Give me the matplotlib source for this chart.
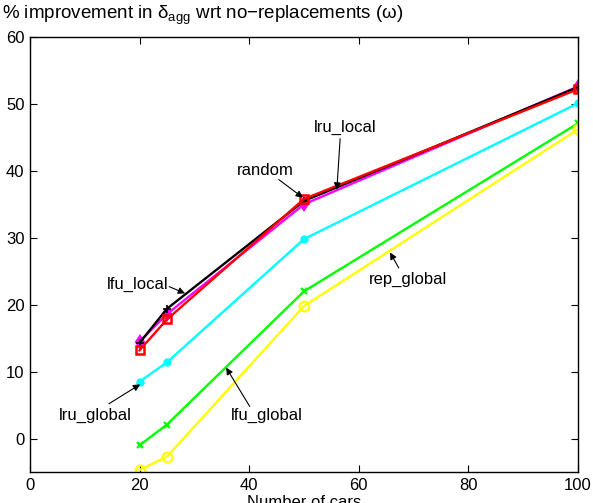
import matplotlib
matplotlib.use('Agg')
import matplotlib.pyplot as plt

plt.rcParams['font.family'] = ['Liberation Sans', 'DejaVu Sans']
plt.rcParams['mathtext.fontset'] = 'custom'
plt.rcParams['mathtext.rm'] = 'Liberation Sans'
plt.rcParams['mathtext.it'] = 'Liberation Sans:italic'

cars = [20, 25, 50, 100]
lfu_local = [14.3, 19.4, 35.5, 52.5]
random_rep = [13.2, 17.8, 35.8, 52.2]
lru_local = [14.5, 18.6, 35.0, 52.6]
lru_global = [8.5, 11.4, 29.8, 50.1]
lfu_global = [-1.0, 2.1, 22.0, 47.1]
rep_global = [-4.7, -2.7, 19.8, 46.2]

# (label, text pos, arrow tail, arrow tip) in data units
labels = [
    ('lru_local', (57.5, 46.5), (56.6, 44.8), (56.0, 37.2)),
    ('random', (42.9, 40.1), (45.4, 38.7), (49.8, 36.0)),
    ('lfu_local', (19.6, 23.0), (25.4, 22.7), (28.3, 21.7)),
    ('lru_global', (11.9, 3.4), (14.4, 5.2), (20.1, 8.1)),
    ('lfu_global', (43.2, 3.5), (40.1, 4.8), (35.8, 10.6)),
    ('rep_global', (69.0, 23.8), (67.3, 25.5), (65.7, 27.8)),
]

fig = plt.figure(figsize=(5.93, 5.03), dpi=100)
ax = fig.add_axes([0.0506, 0.0616, 0.924, 0.8648])

lw = 1.7
ax.plot(cars, lru_global, color='#00FFFF', marker='.', ms=10, lw=lw)
ax.plot(cars, lfu_global, color='#00FF00', marker='x', ms=5, mew=1.6, lw=lw)
ax.plot(cars, rep_global, color='#FFFF00', marker='o', ms=7, mfc='none', mew=1.6, lw=lw)
ax.plot(cars, lru_local, color='#FF00FF', marker='d', ms=6, mew=1.6, lw=lw)
ax.plot(cars, lfu_local, color='k', marker='+', ms=6, mew=1.2, lw=lw)
ax.plot(cars, random_rep, color='#FF0000', marker='s', ms=6, mfc='none', mew=1.8, lw=lw)

for name, txt, tail, tip in labels:
    ax.text(txt[0], txt[1], name, ha='center', va='center', fontsize=12)
    ax.annotate('', xy=tip, xytext=tail,
                arrowprops=dict(arrowstyle='-|>', color='k', lw=0.8,
                                mutation_scale=10, shrinkA=0, shrinkB=0))

ax.set_xlim(0, 100)
ax.set_ylim(-5, 60)
ax.set_xticks([0, 20, 40, 60, 80, 100])
ax.set_yticks([0, 10, 20, 30, 40, 50, 60])
ax.tick_params(direction='in', top=True, right=True, length=5, width=0.8,
               labelsize=12, pad=4)
for s in ax.spines.values():
    s.set_linewidth(1.0)

fig.text(0.003, 0.963, r'% improvement in δ$_{\rm agg}$ wrt no−replacements (ω)',
         fontsize=13.5, ha='left', va='baseline')
fig.text(0.513, -0.008, 'Number of cars', fontsize=12, ha='center', va='baseline')

fig.savefig('out.png', dpi=100)
